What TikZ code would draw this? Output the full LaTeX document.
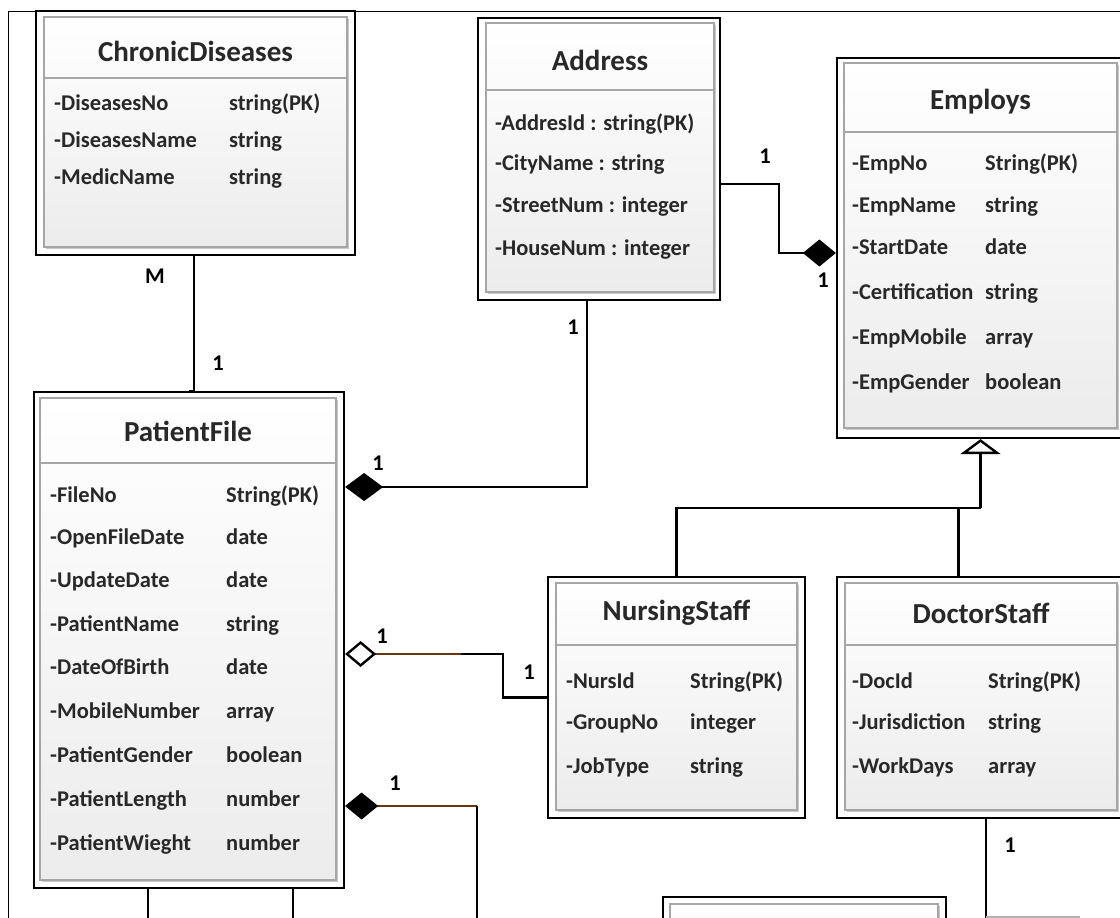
\documentclass[tikz,border=0pt]{standalone}
\usepackage{fontspec}
\setmainfont{Carlito}
\usetikzlibrary{arrows.meta,positioning,calc,shadows}

\definecolor{textgray}{RGB}{40,40,40}
\definecolor{linkbrown}{RGB}{105,55,15}

\begin{document}
\begin{tikzpicture}[
    x=1pt, y=-1pt,
    font=\bfseries\fontsize{22.5}{26}\selectfont,
    outerbox/.style={draw=black, line width=2.2pt, fill=white, inner sep=0pt},
    innerbox/.style={draw=gray!70, line width=1.6pt, inner sep=0pt, top color=white, bottom color=gray!15,
        drop shadow={shadow xshift=1.5pt, shadow yshift=-1.5pt, fill=gray!60, opacity=0.7}},
    divline/.style={draw=gray!70, line width=1.6pt},
    title/.style={font=\bfseries\fontsize{29}{32}\selectfont, text=textgray, inner sep=0pt},
    attr/.style={anchor=west, text=textgray, inner sep=0pt, text height=1.45ex, text depth=0.35ex},
    link/.style={line width=2.4pt},
    mult/.style={text=black, inner sep=0pt}
]

\useasboundingbox (0,0) rectangle (1120,918);
\clip (0,0) rectangle (1120,918);

% -------------------------------------------------
% FRAME
% -------------------------------------------------
\draw[line width=0.9pt] (8,940) -- (8,11) -- (1140,11);

% =================================================
% CLASSES
% =================================================

% ChronicDiseases
\node[outerbox, minimum width=319pt, minimum height=244pt] (CD) at (195.5,133) {};
\node[innerbox, minimum width=303pt, minimum height=230pt] (CDi) at (195.5,132) {};
\draw[divline] (CDi.west |- 0,78) -- (CDi.east |- 0,78);
\node[title] (CDt) at (195.5,51) {ChronicDiseases};
\node[attr] (CDa1) at (54,108) {-DiseasesNo};   \node[attr] (CDb1) at (229,108) {string(PK)};
\node[attr] (CDa2) at (54,145) {-DiseasesName}; \node[attr] (CDb2) at (229,145) {string};
\node[attr] (CDa3) at (54,182) {-MedicName};    \node[attr] (CDb3) at (229,182) {string};

% Address
\node[outerbox, minimum width=242pt, minimum height=282pt] (AD) at (599,159) {};
\node[innerbox, minimum width=228pt, minimum height=269pt] (ADi) at (600,157.5) {};
\draw[divline] (ADi.west |- 0,90) -- (ADi.east |- 0,90);
\node[title] (ADt) at (600,60) {Address};
\node[attr] (ADa1) at (495,128) {-AddresId : string(PK)};
\node[attr] (ADa2) at (495,168) {-CityName : string};
\node[attr] (ADa3) at (495,210) {-StreetNum : integer};
\node[attr] (ADa4) at (495,253) {-HouseNum : integer};

% Employs
\node[outerbox, minimum width=287pt, minimum height=380pt] (EM) at (980.5,248) {};
\node[innerbox, minimum width=273pt, minimum height=365pt] (EMi) at (980.5,245.5) {};
\draw[divline] (EMi.west |- 0,132) -- (EMi.east |- 0,132);
\node[title] (EMt) at (980.5,102) {Employs};
\node[attr] (EMa1) at (852,168) {-EmpNo};         \node[attr] (EMb1) at (985,168) {String(PK)};
\node[attr] (EMa2) at (852,210) {-EmpName};       \node[attr] (EMb2) at (985,210) {string};
\node[attr] (EMa3) at (852,252) {-StartDate};     \node[attr] (EMb3) at (985,252) {date};
\node[attr] (EMa4) at (852,297) {-Certification}; \node[attr] (EMb4) at (985,297) {string};
\node[attr] (EMa5) at (852,342) {-EmpMobile};     \node[attr] (EMb5) at (985,342) {array};
\node[attr] (EMa6) at (852,387) {-EmpGender};     \node[attr] (EMb6) at (985,387) {boolean};

% PatientFile
\node[outerbox, minimum width=310pt, minimum height=496pt] (PF) at (189,640) {};
\node[innerbox, minimum width=296pt, minimum height=482pt] (PFi) at (188,639) {};
\draw[divline] (PFi.west |- 0,463) -- (PFi.east |- 0,463);
\node[title] (PFt) at (188,431) {PatientFile};
\node[attr] (PFa1) at (50,500) {-FileNo};        \node[attr] (PFb1) at (226,500) {String(PK)};
\node[attr] (PFa2) at (50,542) {-OpenFileDate};  \node[attr] (PFb2) at (226,542) {date};
\node[attr] (PFa3) at (50,585) {-UpdateDate};    \node[attr] (PFb3) at (226,585) {date};
\node[attr] (PFa4) at (50,629) {-PatientName};   \node[attr] (PFb4) at (226,629) {string};
\node[attr] (PFa5) at (50,672) {-DateOfBirth};   \node[attr] (PFb5) at (226,672) {date};
\node[attr] (PFa6) at (50,716) {-MobileNumber};  \node[attr] (PFb6) at (226,716) {array};
\node[attr] (PFa7) at (50,760) {-PatientGender}; \node[attr] (PFb7) at (226,760) {boolean};
\node[attr] (PFa8) at (50,804) {-PatientLength}; \node[attr] (PFb8) at (226,804) {number};
\node[attr] (PFa9) at (50,848) {-PatientWieght}; \node[attr] (PFb9) at (226,848) {number};

% NursingStaff
\node[outerbox, minimum width=257pt, minimum height=241pt] (NS) at (676.5,697.5) {};
\node[innerbox, minimum width=241pt, minimum height=227pt] (NSi) at (676.5,696.5) {};
\draw[divline] (NSi.west |- 0,645) -- (NSi.east |- 0,645);
\node[title] (NSt) at (676.5,613) {NursingStaff};
\node[attr] (NSa1) at (566,686) {-NursId};  \node[attr] (NSb1) at (690,686) {String(PK)};
\node[attr] (NSa2) at (566,727) {-GroupNo}; \node[attr] (NSb2) at (690,727) {integer};
\node[attr] (NSa3) at (566,771) {-JobType}; \node[attr] (NSb3) at (690,771) {string};

% DoctorStaff
\node[outerbox, minimum width=287pt, minimum height=241pt] (DS) at (980.5,697.5) {};
\node[innerbox, minimum width=272pt, minimum height=227pt] (DSi) at (981,696.5) {};
\draw[divline] (DSi.west |- 0,645) -- (DSi.east |- 0,645);
\node[title] (DSt) at (981,613) {DoctorStaff};
\node[attr] (DSa1) at (852,686) {-DocId};        \node[attr] (DSb1) at (988,686) {String(PK)};
\node[attr] (DSa2) at (852,727) {-Jurisdiction}; \node[attr] (DSb2) at (988,727) {string};
\node[attr] (DSa3) at (852,771) {-WorkDays};     \node[attr] (DSb3) at (988,771) {array};

% bottom class (cut off)
\node[outerbox, minimum width=283pt, minimum height=63pt] (BX) at (804.5,928.5) {};
\node[innerbox, minimum width=268pt, minimum height=60pt] (BXi) at (804,934) {};

% =================================================
% CONNECTORS
% =================================================

% ChronicDiseases -- PatientFile
\draw[link] ($(CD.south)+(-1.5,7)$) -- (CD.south -| 194,0) |- (PF.north);
\node[mult] (mCD) at (155,276) {M};
\node[mult] (mPF0) at (218,363) {1};

% Address -- PatientFile (composition)
\draw[link, -{Diamond[length=38pt, width=28pt]}] ($(AD.south)+(-12,0)$) |- (PF.east |- 0,487);
\node[mult] (mAD) at (573,327) {1};
\node[mult] (mPF1) at (378,463) {1};

% Address -- Employs (composition)
\draw[link, -{Diamond[length=33pt, width=27pt]}] (AD.east |- 0,184) -| (779,253) -- (EM.west |- 0,253);
\node[mult] (mAD2) at (765,156) {1};
\node[mult] (mEM) at (823,280) {1};

% NursingStaff -- PatientFile (aggregation)
\draw[link] (NS.west) -| (503,654) -- (461,654);
\draw[link, draw=linkbrown, {Diamond[open, color=black, length=31pt, width=26pt]}-] (PF.east |- 0,654) -- (461,654);
\node[mult] (mPF2) at (382,636) {1};
\node[mult] (mNS) at (529,672) {1};

% PatientFile -- lower class (composition)
\coordinate (low1) at (477,930);
\draw[link, draw=linkbrown, {Diamond[color=black, length=33pt, width=27pt]}-] (PF.east |- 0,806) -- (low1 |- 0,806);
\draw[link] (low1 |- 0,806) -- (low1);
\node[mult] (mPF3) at (395,783) {1};

% PatientFile bottom links
\coordinate (low2) at (148,930);
\coordinate (low3) at (293,930);
\draw[link] (PF.south -| low2) -- (low2);
\draw[link] (PF.south -| low3) -- (low3);

% generalization
\draw[link, -{Triangle[open, length=15pt, width=40pt]}] (EM.south |- 0,508) -- (EM.south);
\draw[link] (NS.north) -- (NS.north |- 0,508) -- (EM.south |- 0,508);
\draw[link] ($(DS.north)+(-22,0)$) -- ++(0,-69);

% DoctorStaff -- lower
\coordinate (low4) at (986,930);
\draw[link] (DS.south -| low4) -- (low4);
\node[mult] (mDS) at (1010,845) {1};
\draw[draw=gray!60, line width=1.2pt] (low4 |- 0,917) -- (1080,917);

\end{tikzpicture}
\end{document}
